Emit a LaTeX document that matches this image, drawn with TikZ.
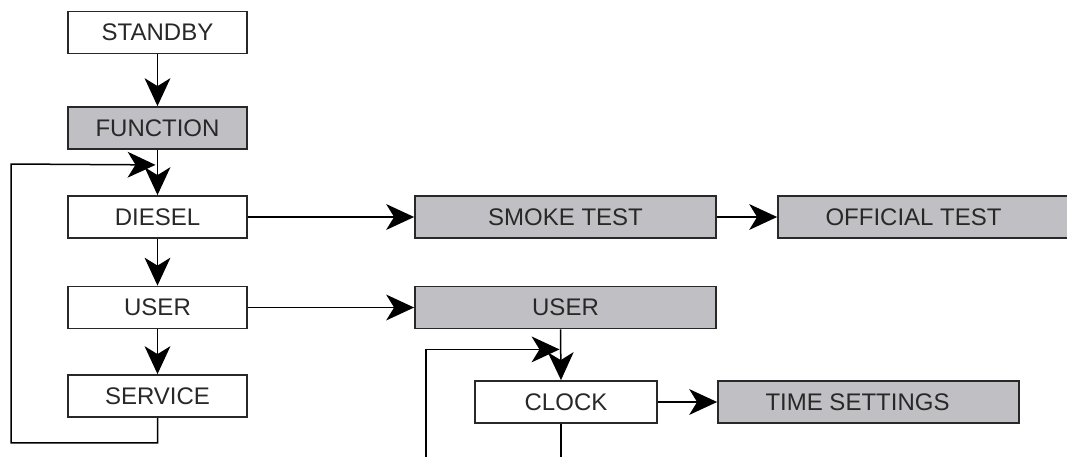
\documentclass[tikz,border=0pt]{standalone}
\usepackage{fontspec}
\setmainfont{Liberation Sans}
\usetikzlibrary{positioning,arrows.meta}

\definecolor{boxgray}{RGB}{192,192,196}
\definecolor{inkgray}{RGB}{40,40,40}

\tikzset{
  menu/.style={draw=inkgray,line width=1.8pt,fill=white,minimum width=179pt,
    minimum height=42pt,inner sep=0pt,text=inkgray,font=\fontsize{24}{28}\selectfont},
  wide/.style={menu,minimum width=301pt},
  shaded/.style={fill=boxgray},
  link/.style={line width=1.5pt,draw=black,
    -{Stealth[length=28pt,width=26pt,inset=8pt,line width=0pt]}},
  wire/.style={line width=1.5pt,draw=black}
}

\begin{document}
\begin{tikzpicture}[x=1pt,y=1pt,on grid]
  \useasboundingbox (0,0) rectangle (1067,-456);
  \fill[white] (0,0) rectangle (1067,-456);
  \clip (0,0) rectangle (1067,-456);

  \node[menu] (standby) at (157.5,-32.5) {STANDBY};
  \node[menu,shaded] (function) [below=95.5 of standby] {FUNCTION};
  \node[menu] (diesel) [below=89 of function] {DIESEL};
  \node[menu] (user) [below=90.5 of diesel] {USER};
  \node[menu] (service) [below=88.5 of user] {SERVICE};

  \node[wide,shaded] (smoke) [right=408 of diesel] {SMOKE TEST};
  \node[wide,shaded] (official) [right=363 of smoke] {\hspace*{-30pt}OFFICIAL TEST};
  \node[wide,shaded] (usermenu) [right=408 of user] {USER};
  \node[menu,minimum width=182pt] (clock) at (566,-402) {CLOCK};
  \node[wide,shaded] (timeset) [right=302.5 of clock] {\hspace*{-22pt}TIME SETTINGS};

  % loop back from SERVICE
  \coordinate (loopin) at ([xshift=-2pt,yshift=-15pt]function.south);
  \coordinate (loopleft) at (11,-164);
  % loop back under CLOCK
  \coordinate (clockin) at ([xshift=-6pt,yshift=-20pt]usermenu.south);
  \coordinate (loopbot) at (426,-480);

  \draw[link] (standby) -- (function);
  \draw[link] (function) -- (diesel);
  \draw[link] (diesel) -- (user);
  \draw[link] (user) -- (service);
  \draw[link] (service.south) -- ++(0,-25) -| (loopleft) -- (loopin);

  \draw[link] (diesel) -- (smoke);
  \draw[link] (smoke) -- (official);
  \draw[link] (user) -- (usermenu);
  \draw[link] ([xshift=-5pt]usermenu.south) -- ([xshift=-5pt]clock.north);
  \draw[link] (clock) -- (timeset);
  \draw[wire] ([xshift=-5pt]clock.south) -- ++(0,-60);
  \draw[link] (loopbot) |- (clockin);
\end{tikzpicture}
\end{document}
